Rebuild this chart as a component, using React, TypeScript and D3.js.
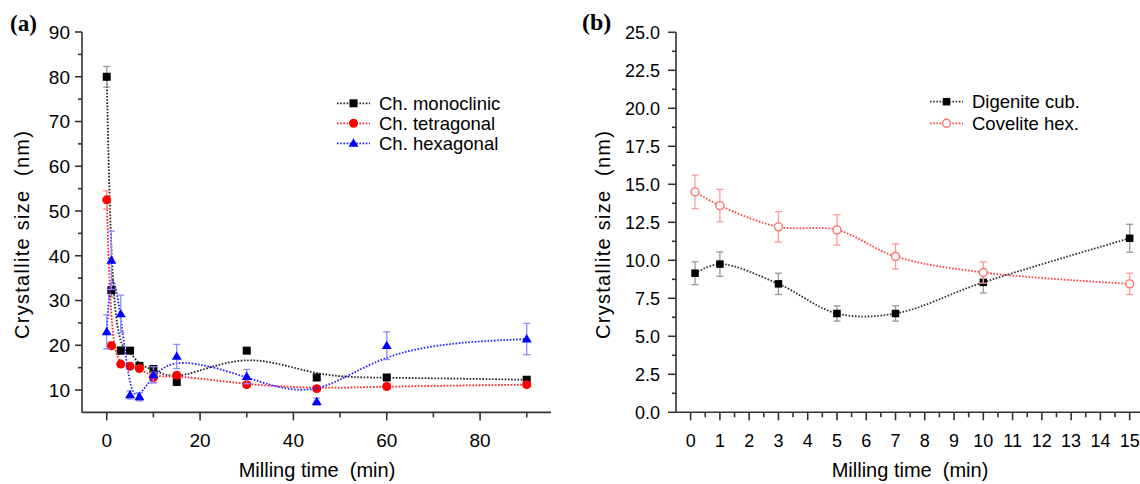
import React from "react";
import * as d3 from "d3";

// ---------- Data: panel (a) ----------
const timeA = [0, 1, 3, 5, 7, 10, 15, 30, 45, 60, 90];
const monoclinic = [80, 32.3, 18.8, 18.8, 15.4, 14.7, 11.8, 18.8, 12.8, 12.8, 12.3];
const monoclinicErr = [2.3, 1.5, 0.8, 0.6, 0.6, 0.6, 0.6, 0.6, 0.6, 0.6, 0.6];
const tetragonal = [52.5, 19.9, 15.8, 15.3, 14.8, 12.8, 13.3, 11.2, 10.3, 10.8, 11.2];
const tetragonalErr = [2.0, 0.8, 0.6, 0.6, 0.6, 1.2, 0.6, 0.6, 0.6, 0.6, 0.6];
const hexagonal = [23.0, 39.0, 27.0, 8.9, 8.5, 13.4, 17.5, 13.0, 7.4, 19.9, 21.4];
const hexagonalErr = [3.8, 6.5, 4.2, 0.9, 0.9, 1.8, 2.7, 1.6, 0.8, 3.1, 3.5];
const seriesNamesA = ["Ch. monoclinic", "Ch. tetragonal", "Ch. hexagonal"];
const xTicksA = [0, 20, 40, 60, 80];
const xMinorA = [10, 30, 50, 70, 90];
const yTicksA = [10, 20, 30, 40, 50, 60, 70, 80, 90];
const yMinorA = [15, 25, 35, 45, 55, 65, 75, 85];

// ---------- Data: panel (b) ----------
const timeB = [0.15, 1, 3, 5, 7, 10, 15];
const digenite = [9.15, 9.75, 8.45, 6.5, 6.5, 8.55, 11.45];
const digeniteErr = [0.75, 0.8, 0.7, 0.5, 0.5, 0.7, 0.92];
const covelite = [14.5, 13.6, 12.2, 12.0, 10.25, 9.2, 8.45];
const coveliteErr = [1.1, 1.07, 1.0, 1.0, 0.83, 0.7, 0.7];
const seriesNamesB = ["Digenite cub.", "Covelite hex."];
const xTicksB = d3.range(0, 16);
const xMinorB = d3.range(0, 16).map((v) => v + 0.5);
const yTicksB = [0, 2.5, 5, 7.5, 10, 12.5, 15, 17.5, 20, 22.5, 25];
const yMinorB = yTicksB.slice(0, -1).map((v) => v + 1.25);

const xTitle = "Milling time\u00a0 (min)";
const yTitle = "Crystallite size\u00a0 (nm)";

const FONT = "'Liberation Sans', Arial, Helvetica, sans-serif";
const AXIS = "#333";

type Marker = "square" | "circle" | "triangle" | "opencircle";

function MarkerShape({ type, x, y, color, size }: { type: Marker; x: number; y: number; color: string; size: number }) {
  if (type === "square")
    return <rect x={x - size / 2} y={y - size / 2} width={size} height={size} fill={color} />;
  if (type === "circle") return <circle cx={x} cy={y} r={size / 2} fill={color} />;
  if (type === "opencircle")
    return <circle cx={x} cy={y} r={size / 2} fill="white" stroke={color} strokeWidth={1.4} />;
  const h = size * 0.9;
  return (
    <path
      d={`M${x},${y - h * 0.62}L${x + size / 2 + 0.5},${y + h * 0.42}L${x - size / 2 - 0.5},${y + h * 0.42}Z`}
      fill={color}
    />
  );
}

type Series = {
  xs: number[];
  ys: number[];
  err: number[];
  color: string;
  lineColor: string;
  errColor: string;
  marker: Marker;
  size: number;
};

function SeriesG({ s, x, y, curve }: { s: Series; x: d3.ScaleLinear<number, number>; y: d3.ScaleLinear<number, number>; curve: d3.CurveFactory }) {
  const pts: [number, number][] = s.xs.map((v, i) => [x(v), y(s.ys[i])]);
  const line = d3.line().curve(curve)(pts) || "";
  return (
    <g>
      <path d={line} fill="none" stroke={s.lineColor} strokeWidth={1.8} strokeDasharray="1.6 1.6" />
      {s.xs.map((v, i) => {
        const cx = x(v);
        const y1 = y(s.ys[i] + s.err[i]);
        const y2 = y(s.ys[i] - s.err[i]);
        return (
          <g key={"e" + i} stroke={s.errColor} strokeWidth={1.3}>
            <line x1={cx} x2={cx} y1={y1} y2={y2} />
            <line x1={cx - 3.5} x2={cx + 3.5} y1={y1} y2={y1} />
            <line x1={cx - 3.5} x2={cx + 3.5} y1={y2} y2={y2} />
          </g>
        );
      })}
      {s.xs.map((v, i) => (
        <MarkerShape key={"m" + i} type={s.marker} x={x(v)} y={y(s.ys[i])} color={s.color} size={s.size} />
      ))}
    </g>
  );
}

function LegendRow({ x, y, s, label }: { x: number; y: number; s: Series; label: string }) {
  return (
    <g>
      <line x1={x} x2={x + 33} y1={y} y2={y} stroke={s.lineColor} strokeWidth={1.8} strokeDasharray="1.6 1.6" />
      <MarkerShape type={s.marker} x={x + 16.5} y={y} color={s.color} size={s.size} />
      <text x={x + 42} y={y + 6.5} fontSize={18.5} fontFamily={FONT} fill="#000">
        {label}
      </text>
    </g>
  );
}

export default function App() {
  // Panel (a) scales
  const xA = d3.scaleLinear().domain([-5.3, 95.2]).range([82, 551]);
  const yA = d3.scaleLinear().domain([5, 90]).range([412.4, 32]);
  // Panel (b) scales
  const xB = d3.scaleLinear().domain([-0.5, 15.5]).range([676, 1144.3]);
  const yB = d3.scaleLinear().domain([0, 25]).range([412.3, 32.3]);

  const sA: Series[] = [
    { xs: timeA, ys: monoclinic, err: monoclinicErr, color: "#000", lineColor: "#222", errColor: "#999", marker: "square", size: 8 },
    { xs: timeA, ys: tetragonal, err: tetragonalErr, color: "#ff0000", lineColor: "#ff2020", errColor: "#ff8c8c", marker: "circle", size: 9 },
    { xs: timeA, ys: hexagonal, err: hexagonalErr, color: "#0000ff", lineColor: "#2020ff", errColor: "#8c8cff", marker: "triangle", size: 9 },
  ];
  const sB: Series[] = [
    { xs: timeB, ys: digenite, err: digeniteErr, color: "#000", lineColor: "#333", errColor: "#999", marker: "square", size: 7.5 },
    { xs: timeB, ys: covelite, err: coveliteErr, color: "#ff7070", lineColor: "#ff4040", errColor: "#ff9a9a", marker: "opencircle", size: 8 },
  ];

  const axisA = { x0: xA.range()[0], x1: xA.range()[1], y0: yA.range()[0], y1: yA.range()[1] };
  const axisB = { x0: xB.range()[0], x1: xB.range()[1], y0: yB.range()[0], y1: yB.range()[1] };

  return (
    <svg width={1140} height={484} style={{ position: "absolute", left: 0, top: 0, background: "white" }}>
      {/* ---------------- Panel (a) ---------------- */}
      <text x={10} y={31} fontSize={23} fontWeight="bold" fontFamily="'Liberation Serif', 'Times New Roman', serif">(a)</text>
      <g stroke={AXIS} strokeWidth={1.6}>
        <line x1={axisA.x0} x2={axisA.x0} y1={axisA.y0} y2={axisA.y1} />
        <line x1={axisA.x0} x2={axisA.x1} y1={axisA.y0} y2={axisA.y0} />
        {yTicksA.map((t) => (
          <line key={"ya" + t} x1={axisA.x0 - 7} x2={axisA.x0} y1={yA(t)} y2={yA(t)} />
        ))}
        {yMinorA.map((t) => (
          <line key={"yma" + t} x1={axisA.x0 - 4} x2={axisA.x0} y1={yA(t)} y2={yA(t)} />
        ))}
        {xTicksA.map((t) => (
          <line key={"xa" + t} x1={xA(t)} x2={xA(t)} y1={axisA.y0} y2={axisA.y0 + 8} />
        ))}
        {xMinorA.map((t) => (
          <line key={"xma" + t} x1={xA(t)} x2={xA(t)} y1={axisA.y0} y2={axisA.y0 + 5} />
        ))}
      </g>
      <g fontFamily={FONT} fontSize={19} fill="#000">
        {yTicksA.map((t) => (
          <text key={"yla" + t} x={axisA.x0 - 12} y={yA(t) + 6.8} textAnchor="end">{t}</text>
        ))}
        {xTicksA.map((t) => (
          <text key={"xla" + t} x={xA(t)} y={447} textAnchor="middle">{t}</text>
        ))}
      </g>
      <text x={317} y={477} textAnchor="middle" fontFamily={FONT} fontSize={20}>{xTitle}</text>
      <text transform="translate(29,235) rotate(-90)" textAnchor="middle" fontFamily={FONT} fontSize={20} textLength={208}>{yTitle}</text>

      {sA.map((s, i) => (
        <SeriesG key={"sa" + i} s={s} x={xA} y={yA} curve={d3.curveBasis} />
      ))}
      {sA.map((s, i) => (
        <LegendRow key={"la" + i} x={337} y={103.3 + i * 20} s={s} label={seriesNamesA[i]} />
      ))}

      {/* ---------------- Panel (b) ---------------- */}
      <text x={582} y={30} fontSize={24} fontWeight="bold" fontFamily="'Liberation Serif', 'Times New Roman', serif">(b)</text>
      <g stroke={AXIS} strokeWidth={1.6}>
        <line x1={axisB.x0} x2={axisB.x0} y1={axisB.y0} y2={axisB.y1} />
        <line x1={axisB.x0} x2={axisB.x1} y1={axisB.y0} y2={axisB.y0} />
        {yTicksB.map((t) => (
          <line key={"yb" + t} x1={axisB.x0 - 8} x2={axisB.x0} y1={yB(t)} y2={yB(t)} />
        ))}
        {yMinorB.map((t) => (
          <line key={"ymb" + t} x1={axisB.x0 - 4} x2={axisB.x0} y1={yB(t)} y2={yB(t)} />
        ))}
        {xTicksB.map((t) => (
          <line key={"xb" + t} x1={xB(t)} x2={xB(t)} y1={axisB.y0} y2={axisB.y0 + 8} />
        ))}
        {xMinorB.map((t) => (
          <line key={"xmb" + t} x1={xB(t)} x2={xB(t)} y1={axisB.y0} y2={axisB.y0 + 5} />
        ))}
      </g>
      <g fontFamily={FONT} fontSize={18} fill="#000">
        {yTicksB.map((t) => (
          <text key={"ylb" + t} x={axisB.x0 - 16} y={yB(t) + 6.5} textAnchor="end">{t.toFixed(1)}</text>
        ))}
        {xTicksB.map((t) => (
          <text key={"xlb" + t} x={xB(t)} y={447} textAnchor="middle">{t}</text>
        ))}
      </g>
      <text x={910} y={477} textAnchor="middle" fontFamily={FONT} fontSize={20}>{xTitle}</text>
      <text transform="translate(610,235) rotate(-90)" textAnchor="middle" fontFamily={FONT} fontSize={20} textLength={208}>{yTitle}</text>

      {sB.map((s, i) => (
        <SeriesG key={"sb" + i} s={s} x={xB} y={yB} curve={d3.curveCatmullRom.alpha(0.5)} />
      ))}
      {sB.map((s, i) => (
        <LegendRow key={"lb" + i} x={930} y={101.7 + i * 21.6} s={s} label={seriesNamesB[i]} />
      ))}
    </svg>
  );
}
